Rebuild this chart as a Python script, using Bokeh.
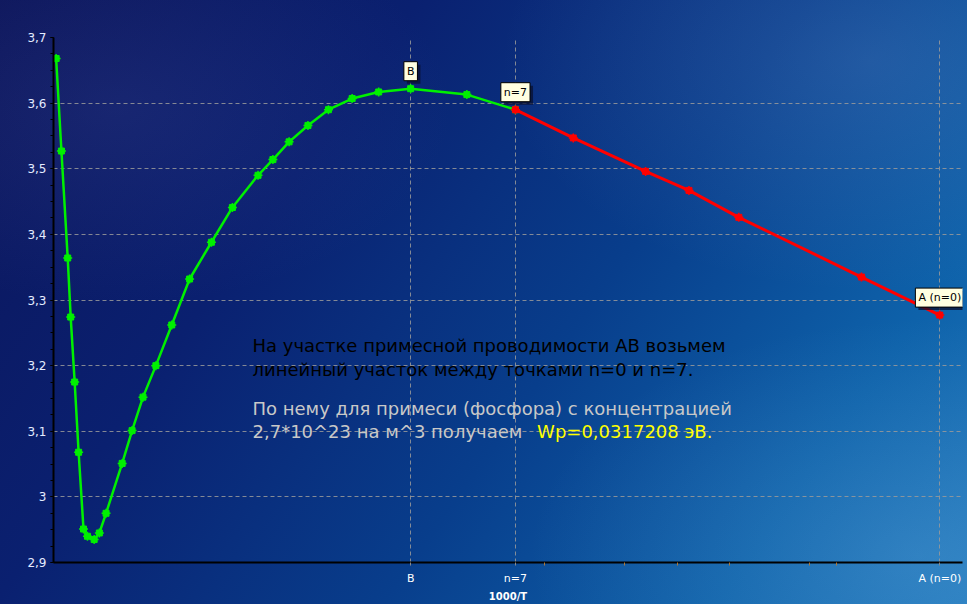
from bokeh.plotting import figure
from bokeh.models import Range1d, FixedTicker, CustomJSTickFormatter, Label
from bokeh.embed import file_html
from bokeh.resources import INLINE

# ---- data ----
green_x = [0.032, 0.096, 0.172, 0.208, 0.256, 0.304, 0.363, 0.411, 0.492, 0.555,
           0.636, 0.831, 0.951, 1.083, 1.239, 1.431, 1.647, 1.911, 2.165, 2.475,
           2.655, 2.851, 3.079, 3.327, 3.614, 3.935, 4.322, 5.002, 5.590]
green_y = [3.668, 3.527, 3.364, 3.274, 3.175, 3.068, 2.951, 2.940, 2.935, 2.945,
           2.975, 3.051, 3.101, 3.152, 3.200, 3.262, 3.332, 3.388, 3.441, 3.490,
           3.514, 3.541, 3.566, 3.590, 3.607, 3.617, 3.622, 3.613, 3.590]
red_x = [5.590, 6.290, 7.165, 7.690, 8.293, 9.777, 10.725]
red_y = [3.590, 3.547, 3.496, 3.467, 3.426, 3.335, 3.277]

x_tick_labels = ["B", "n=7", "A (n=0)"]
x_tick_values = [green_x[26], red_x[0], red_x[-1]]
point_label_y = [green_y[26], red_y[0], red_y[-1]]
x_minor_ticks = [5.938, 6.910, 7.546, 8.182, 9.153, 9.477]
y_ticks = [2.9, 3.0, 3.1, 3.2, 3.3, 3.4, 3.5, 3.6, 3.7]
y_minor_ticks = [round(2.9 + 0.025 * i, 3) for i in range(33)]

title_text = "Зависимость lg(y)=f(1000/T)"
x_label = "1000/T"
y_label = "lg(y)"
note_lines = ["На участке примесной проводимости АВ возьмем",
              "линейный участок между точками n=0  и n=7."]
note_gray = ["По нему для примеси (фосфора) с концентрацией",
             "2,7*10^23 на м^3 получаем"]
note_yellow = "Wp=0,0317208 эВ."

FONT = "DejaVu Sans"

p = figure(width=967, height=604, x_range=Range1d(0, 11), y_range=Range1d(2.9, 3.7),
           output_backend="svg", toolbar_location=None,
           min_border_left=53, min_border_right=5, min_border_top=37, min_border_bottom=38)
p.styles = {"background": "radial-gradient(ellipse at 90% 10%, rgba(120,150,210,0.22) 0%, rgba(0,0,0,0) 30%),"
                          "radial-gradient(ellipse at 95% 92%, rgba(130,190,235,0.22) 0%, rgba(0,0,0,0) 30%),"
                          "radial-gradient(ellipse at 12% 18%, rgba(90,100,180,0.16) 0%, rgba(0,0,0,0) 28%),"
                          "linear-gradient(125deg, #0c155a 0%, #0a2070 30%, #083e8c 58%, #0e62aa 82%, #2078bc 100%)"}
p.background_fill_alpha = 0
p.border_fill_alpha = 0
p.outline_line_color = None

# axes
p.xaxis.ticker = FixedTicker(ticks=x_tick_values, minor_ticks=x_minor_ticks)
p.xaxis.formatter = CustomJSTickFormatter(args=dict(vals=x_tick_values, labs=x_tick_labels), code="""
let b = 0;
for (let i = 0; i < vals.length; i++) { if (Math.abs(vals[i]-tick) < Math.abs(vals[b]-tick)) b = i; }
return labs[b];
""")
p.yaxis.ticker = FixedTicker(ticks=y_ticks, minor_ticks=y_minor_ticks)
p.yaxis.formatter = CustomJSTickFormatter(code="return (Math.round(tick*10)/10).toString().replace('.', ',');")

for ax in (p.xaxis[0], p.yaxis[0]):
    ax.axis_line_color = "black"
    ax.axis_line_width = 2
    ax.major_tick_in = 0
    ax.minor_tick_in = 0
    ax.major_label_text_font = FONT
    ax.major_label_text_color = "#e4ecff"

p.yaxis.major_tick_out = 3
p.yaxis.minor_tick_out = 3
p.yaxis.major_tick_line_color = "black"
p.yaxis.minor_tick_line_color = "black"
p.yaxis.major_label_text_font_size = "12px"
p.yaxis.major_label_standoff = 4

p.xaxis.major_tick_out = 3
p.xaxis.minor_tick_out = 3
p.xaxis.major_tick_line_color = "#8a8a8a"
p.xaxis.minor_tick_line_color = "#b07838"
p.xaxis.major_label_text_font_size = "11px"
p.xaxis.major_label_standoff = 6
p.xaxis.major_label_text_color = "white"
p.xaxis.axis_label = x_label
p.xaxis.axis_label_text_font = FONT
p.xaxis.axis_label_text_font_size = "10px"
p.xaxis.axis_label_text_font_style = "bold"
p.xaxis.axis_label_text_color = "white"
p.xaxis.axis_label_standoff = 3

# grids
p.xgrid.grid_line_color = "#9a9a9a"
p.xgrid.grid_line_dash = "4 3"
p.xgrid.grid_line_alpha = 0.85
p.ygrid.ticker = FixedTicker(ticks=y_ticks[1:-1])
p.ygrid.grid_line_color = "#9a9a9a"
p.ygrid.grid_line_dash = "4 3"
p.ygrid.grid_line_alpha = 0.85

# series
GREEN = "#00f000"
p.line(green_x, green_y, line_color=GREEN, line_width=2.5)
p.scatter(green_x, green_y, marker="square", size=6, fill_color=GREEN, line_color=GREEN)
p.scatter(green_x, green_y, marker="cross", size=9, line_color=GREEN, line_width=1.5)
p.line(red_x, red_y, line_color="#ff0000", line_width=3)
p.scatter(red_x, red_y, marker="square", size=6, fill_color="#ff0000", line_color="#ff0000")
p.scatter(red_x, red_y, marker="cross", size=9, line_color="#ff0000", line_width=1.5)

# point labels (tooltip-like boxes with shadow)
for xv, yv, txt in zip(x_tick_values, point_label_y, x_tick_labels):
    p.add_layout(Label(x=xv, y=yv, text=txt, text_align="center", text_baseline="bottom",
                       x_offset=3, y_offset=5, text_font=FONT, text_font_size="11px",
                       text_color="#0a1030", background_fill_color="#0a1030", background_fill_alpha=0.75,
                       padding=3))
    p.add_layout(Label(x=xv, y=yv, text=txt, text_align="center", text_baseline="bottom",
                       x_offset=0, y_offset=8, text_font=FONT, text_font_size="11px",
                       text_color="black", background_fill_color="#ffffe1",
                       border_line_color="black", border_line_width=1, padding=3))

# title and y label (screen units relative to the frame)
p.add_layout(Label(x=429, y=547, x_units="screen", y_units="screen", text=title_text,
                   text_align="center", text_baseline="middle", text_font=FONT,
                   text_font_size="17px", text_color="white"))
p.add_layout(Label(x=-48, y=264, x_units="screen", y_units="screen", text=y_label,
                   text_align="left", text_baseline="middle", text_font=FONT,
                   text_font_size="10px", text_font_style="bold", text_color="white"))

# notes
NOTE_SIZE = "18px"
p.add_layout(Label(x=199, y=216.6, x_units="screen", y_units="screen", text=note_lines[0],
                   text_baseline="alphabetic", text_font=FONT, text_font_size=NOTE_SIZE, text_color="black"))
p.add_layout(Label(x=199, y=193, x_units="screen", y_units="screen", text=note_lines[1],
                   text_baseline="alphabetic", text_font=FONT, text_font_size=NOTE_SIZE, text_color="black"))
p.add_layout(Label(x=199, y=154.4, x_units="screen", y_units="screen", text=note_gray[0],
                   text_baseline="alphabetic", text_font=FONT, text_font_size=NOTE_SIZE, text_color="#c8c8c8"))
p.add_layout(Label(x=199, y=130.7, x_units="screen", y_units="screen", text=note_gray[1],
                   text_baseline="alphabetic", text_font=FONT, text_font_size=NOTE_SIZE, text_color="#c8c8c8"))
p.add_layout(Label(x=483.6, y=130.7, x_units="screen", y_units="screen", text=note_yellow,
                   text_baseline="alphabetic", text_font=FONT, text_font_size=NOTE_SIZE, text_color="#ffff00"))

open("out.html", "w").write(file_html(p, INLINE))
